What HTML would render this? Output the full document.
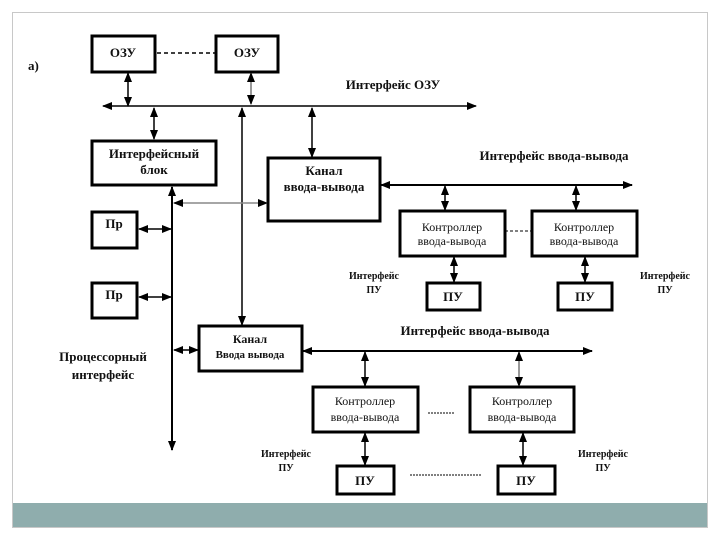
<!DOCTYPE html>
<html><head><meta charset="utf-8"><style>
html,body{margin:0;padding:0;background:#fff;}
svg{display:block;}
text{font-family:"Liberation Serif","DejaVu Serif",serif;font-weight:bold;fill:#111;}
.n{font-weight:normal;}
</style></head><body>
<svg width="720" height="540" viewBox="0 0 720 540" xmlns="http://www.w3.org/2000/svg">
<defs>
<marker id="a" viewBox="0 0 10 10" refX="9" refY="5" markerWidth="10" markerHeight="10" markerUnits="userSpaceOnUse" orient="auto-start-reverse"><path d="M0,1 L10,5 L0,9 z" fill="#000"/></marker>
</defs>
<rect x="12.5" y="12.5" width="695" height="515" fill="#fff" stroke="#c8c8c8"/>
<rect x="13" y="503" width="694" height="24" fill="#8fadad"/>
<text x="28" y="70" font-size="13">а)</text>
<g fill="none" stroke="#000" stroke-width="3">
<rect x="92" y="36" width="63" height="36"/>
<rect x="216" y="36" width="62" height="36"/>
<rect x="92" y="141" width="124" height="44"/>
<rect x="268" y="158" width="112" height="63"/>
<rect x="92" y="212" width="45" height="36"/>
<rect x="92" y="283" width="45" height="35"/>
<rect x="400" y="211" width="105" height="45"/>
<rect x="532" y="211" width="105" height="45"/>
<rect x="427" y="283" width="53" height="27"/>
<rect x="558" y="283" width="54" height="27"/>
<rect x="199" y="326" width="103" height="45"/>
<rect x="313" y="387" width="105" height="45"/>
<rect x="470" y="387" width="104" height="45"/>
<rect x="337" y="466" width="57" height="28"/>
<rect x="498" y="466" width="57" height="28"/>
</g>
<g stroke="#000" stroke-width="1.5" fill="none">
<line x1="157" y1="53" x2="215" y2="53" stroke-dasharray="4,3"/>
<line x1="505" y1="231" x2="531" y2="231" stroke-dasharray="3,2" stroke-width="1"/>
<line x1="428" y1="413" x2="455" y2="413" stroke-dasharray="2,1" stroke-width="1"/>
<line x1="410" y1="475" x2="482" y2="475" stroke-dasharray="2,1" stroke-width="1"/>
<line x1="103" y1="106" x2="476" y2="106" marker-start="url(#a)" marker-end="url(#a)"/>
<line x1="128" y1="73" x2="128" y2="106" marker-start="url(#a)" marker-end="url(#a)"/>
<line x1="251" y1="73" x2="251" y2="104" marker-start="url(#a)" marker-end="url(#a)" stroke="#777"/>
<line x1="154" y1="108" x2="154" y2="139" marker-start="url(#a)" marker-end="url(#a)"/>
<line x1="312" y1="108" x2="312" y2="157" marker-start="url(#a)" marker-end="url(#a)"/>
<line x1="242" y1="108" x2="242" y2="325" marker-start="url(#a)" marker-end="url(#a)"/>
<line x1="172" y1="187" x2="172" y2="450" marker-start="url(#a)" marker-end="url(#a)" stroke-width="2"/>
<line x1="174" y1="203" x2="267" y2="203" marker-start="url(#a)" marker-end="url(#a)" stroke="#888"/>
<line x1="139" y1="229" x2="171" y2="229" marker-start="url(#a)" marker-end="url(#a)"/>
<line x1="139" y1="297" x2="171" y2="297" marker-start="url(#a)" marker-end="url(#a)"/>
<line x1="174" y1="350" x2="198" y2="350" marker-start="url(#a)" marker-end="url(#a)"/>
<line x1="381" y1="185" x2="632" y2="185" marker-start="url(#a)" marker-end="url(#a)" stroke-width="2"/>
<line x1="445" y1="186" x2="445" y2="210" marker-start="url(#a)" marker-end="url(#a)"/>
<line x1="576" y1="186" x2="576" y2="210" marker-start="url(#a)" marker-end="url(#a)"/>
<line x1="454" y1="257" x2="454" y2="282" marker-start="url(#a)" marker-end="url(#a)"/>
<line x1="585" y1="257" x2="585" y2="282" marker-start="url(#a)" marker-end="url(#a)"/>
<line x1="303" y1="351" x2="592" y2="351" marker-start="url(#a)" marker-end="url(#a)" stroke-width="2"/>
<line x1="365" y1="352" x2="365" y2="386" marker-start="url(#a)" marker-end="url(#a)"/>
<line x1="519" y1="352" x2="519" y2="386" marker-start="url(#a)" marker-end="url(#a)" stroke="#777"/>
<line x1="365" y1="433" x2="365" y2="465" marker-start="url(#a)" marker-end="url(#a)"/>
<line x1="523" y1="433" x2="523" y2="465" marker-start="url(#a)" marker-end="url(#a)"/>
</g>
<g text-anchor="middle">
<text x="123" y="57" font-size="13">ОЗУ</text>
<text x="247" y="57" font-size="13">ОЗУ</text>
<text x="154" y="158" font-size="13">Интерфейсный</text>
<text x="154" y="174" font-size="13">блок</text>
<text x="324" y="175" font-size="13">Канал</text>
<text x="324" y="191" font-size="13">ввода-вывода</text>
<text x="114" y="228" font-size="13">Пр</text>
<text x="114" y="299" font-size="13">Пр</text>
<text x="393" y="89" font-size="13">Интерфейс ОЗУ</text>
<text x="554" y="160" font-size="13">Интерфейс  ввода-вывода</text>
<text x="452" y="231" font-size="12" class="n">Контроллер</text>
<text x="452" y="245" font-size="12" class="n">ввода-вывода</text>
<text x="584" y="231" font-size="12" class="n">Контроллер</text>
<text x="584" y="245" font-size="12" class="n">ввода-вывода</text>
<text x="374" y="279" font-size="10">Интерфейс</text>
<text x="374" y="293" font-size="10">ПУ</text>
<text x="665" y="279" font-size="10">Интерфейс</text>
<text x="665" y="293" font-size="10">ПУ</text>
<text x="453" y="301" font-size="13">ПУ</text>
<text x="585" y="301" font-size="13">ПУ</text>
<text x="250" y="343" font-size="12">Канал</text>
<text x="250" y="358" font-size="11">Ввода вывода</text>
<text x="475" y="335" font-size="13">Интерфейс  ввода-вывода</text>
<text x="103" y="361" font-size="13">Процессорный</text>
<text x="103" y="379" font-size="13">интерфейс</text>
<text x="365" y="405" font-size="12" class="n">Контроллер</text>
<text x="365" y="421" font-size="12" class="n">ввода-вывода</text>
<text x="522" y="405" font-size="12" class="n">Контроллер</text>
<text x="522" y="421" font-size="12" class="n">ввода-вывода</text>
<text x="286" y="457" font-size="10">Интерфейс</text>
<text x="286" y="471" font-size="10">ПУ</text>
<text x="603" y="457" font-size="10">Интерфейс</text>
<text x="603" y="471" font-size="10">ПУ</text>
<text x="365" y="485" font-size="13">ПУ</text>
<text x="526" y="485" font-size="13">ПУ</text>
</g>
</svg>
</body></html>
